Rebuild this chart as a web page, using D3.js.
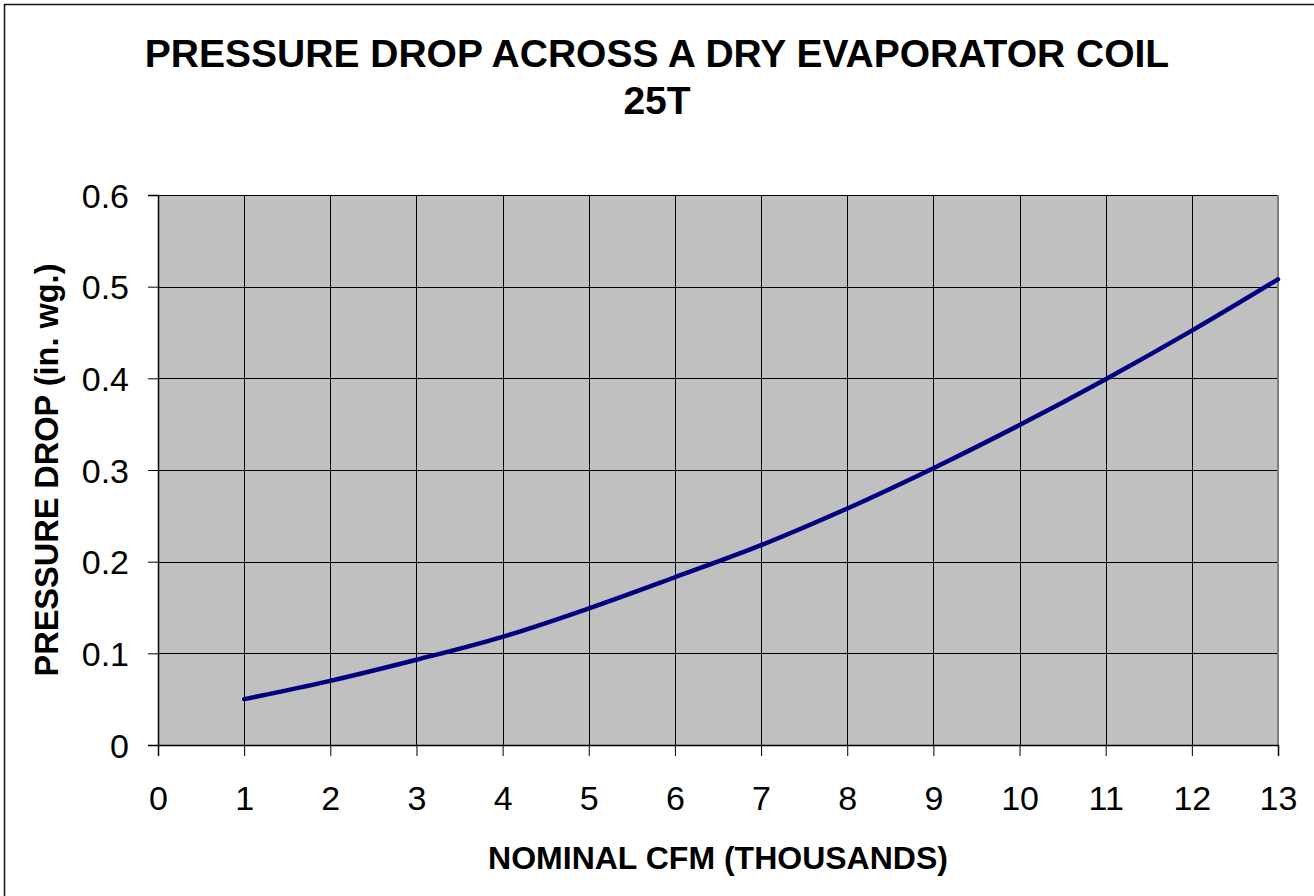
<!DOCTYPE html>
<html>
<head>
<meta charset="utf-8">
<script src="https://cdn.jsdelivr.net/npm/d3@7"></script>
<style>
  html, body { margin: 0; padding: 0; background: #fff; }
  svg { display: block; font-family: "Liberation Sans", Arial, sans-serif; }
</style>
</head>
<body>
<svg id="chart" width="1314" height="896"></svg>
<script>
// Nominal airflow in thousands of CFM
const cfm = [1, 2, 3, 4, 5, 6, 7, 8, 9, 10, 11, 12, 13];
// Pressure drop across the dry coil, inches water gauge
const pressureDrop = [0.05, 0.07, 0.093, 0.118, 0.149, 0.183, 0.218, 0.258, 0.302, 0.349, 0.399, 0.452, 0.508];
const xTicks = [0, 1, 2, 3, 4, 5, 6, 7, 8, 9, 10, 11, 12, 13];
const yTicks = [0, 0.1, 0.2, 0.3, 0.4, 0.5, 0.6];
const titleLines = ["PRESSURE DROP ACROSS A DRY EVAPORATOR COIL", "25T"];
const xTitle = "NOMINAL CFM (THOUSANDS)";
const yTitle = "PRESSURE DROP (in. wg.)";

const svg = d3.select("#chart");
const plot = { left: 158, top: 195, right: 1278, bottom: 745 };

const x = d3.scaleLinear().domain([0, 13]).range([plot.left, plot.right]);
const y = d3.scaleLinear().domain([0, 0.6]).range([plot.bottom, plot.top]);

// Outer chart frame
svg.append("rect")
  .attr("x", 4.5).attr("y", 4.5)
  .attr("width", 1330).attr("height", 900)
  .attr("fill", "none").attr("stroke", "#111").attr("stroke-width", 1.5);

// Plot background
svg.append("rect")
  .attr("x", plot.left).attr("y", plot.top)
  .attr("width", plot.right - plot.left).attr("height", plot.bottom - plot.top)
  .attr("fill", "#c0c0c0");

// Grid lines
const grid = svg.append("g").attr("stroke", "#000").attr("stroke-width", 1).attr("shape-rendering", "crispEdges");
grid.selectAll("line.h").data(yTicks.filter(d => d > 0)).join("line")
  .attr("class", "h")
  .attr("x1", plot.left).attr("x2", plot.right)
  .attr("y1", d => Math.round(y(d)) + 0.5).attr("y2", d => Math.round(y(d)) + 0.5);
grid.selectAll("line.v").data(xTicks.filter(d => d > 0 && d < 13)).join("line")
  .attr("class", "v")
  .attr("y1", plot.top).attr("y2", plot.bottom)
  .attr("x1", d => Math.round(x(d)) + 0.5).attr("x2", d => Math.round(x(d)) + 0.5);

// Right edge of the plot area
svg.append("line")
  .attr("x1", plot.right).attr("x2", plot.right)
  .attr("y1", plot.top).attr("y2", plot.bottom)
  .attr("stroke", "#808080").attr("stroke-width", 2);

// Axes
const xAxis = d3.axisBottom(x).tickValues(xTicks).tickSize(11).tickPadding(0).tickFormat(d3.format("d"));
const yAxis = d3.axisLeft(y).tickValues(yTicks).tickSize(10).tickPadding(19).tickFormat(d => d === 0 ? "0" : d3.format(".1f")(d));

const gx = svg.append("g").attr("transform", `translate(0,${plot.bottom})`).call(xAxis);
const gy = svg.append("g").attr("transform", `translate(${plot.left},0)`).call(yAxis);
[gx, gy].forEach(g => {
  g.select(".domain").attr("stroke", "#000").attr("stroke-width", 1.5);
  g.selectAll(".tick line").attr("stroke", "#000").attr("stroke-width", 1);
  g.selectAll("text").attr("font-size", 34).attr("fill", "#000")
    .attr("font-family", "'Liberation Sans', Arial, sans-serif");
});
gy.selectAll("text").attr("dy", "0.36em");
gx.selectAll("text").attr("y", 65).attr("dy", 0);

// Curve
const line = d3.line()
  .x((d, i) => x(cfm[i]))
  .y(d => y(d))
  .curve(d3.curveCatmullRom.alpha(0.5));
svg.append("path")
  .datum(pressureDrop)
  .attr("d", line)
  .attr("fill", "none")
  .attr("stroke", "#000080")
  .attr("stroke-width", 4.5)
  .attr("stroke-linecap", "round")
  .attr("stroke-linejoin", "round");

// Titles
svg.append("g").selectAll("text").data(titleLines).join("text")
  .attr("x", 657)
  .attr("y", (d, i) => 67 + i * 47)
  .attr("text-anchor", "middle")
  .attr("font-size", 39).attr("font-weight", "bold")
  .text(d => d);

svg.append("text")
  .attr("x", (plot.left + plot.right) / 2).attr("y", 869)
  .attr("text-anchor", "middle")
  .attr("font-size", 32).attr("font-weight", "bold")
  .text(xTitle);

svg.append("text")
  .attr("transform", `translate(57.5,${(plot.top + plot.bottom) / 2}) rotate(-90)`)
  .attr("text-anchor", "middle")
  .attr("font-size", 32.5).attr("font-weight", "bold")
  .text(yTitle);
</script>
</body>
</html>
